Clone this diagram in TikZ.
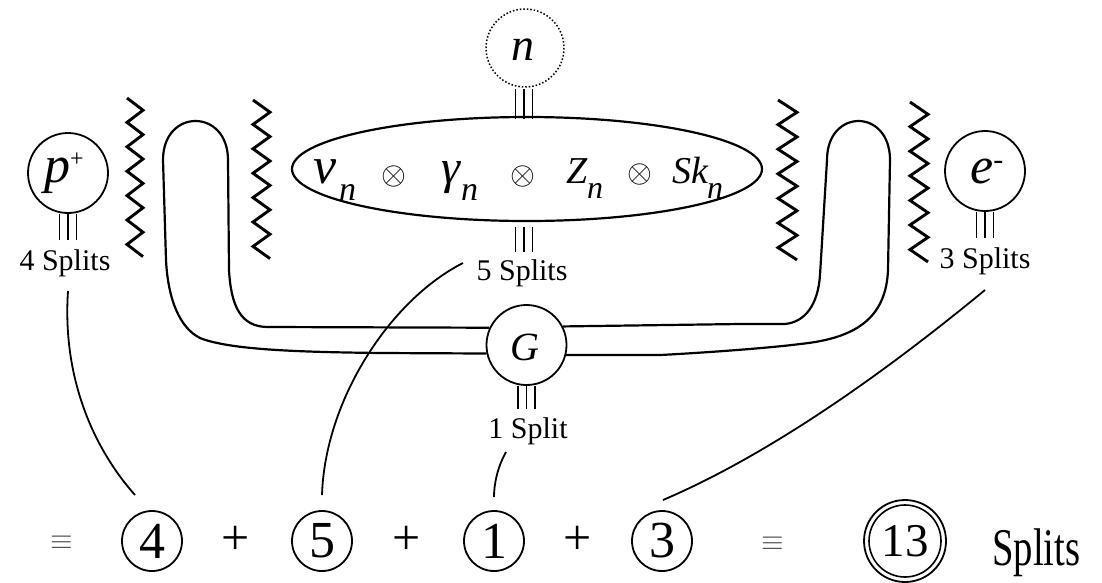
\documentclass[tikz,border=0pt]{standalone}
\usepackage{fontspec}
\setmainfont{Liberation Serif}
\begin{document}
\begin{tikzpicture}[x=1pt,y=-1pt,
  ln/.style={line width=2.2pt, line join=round},
  zz/.style={line width=2.9pt, line join=miter},
  bars/.style={line width=1.2pt},
  conn/.style={line width=1.8pt},
  bigc/.style={circle, draw, line width=1.8pt, minimum size=80pt, inner sep=0pt},
  numc/.style={circle, draw, line width=1.8pt, minimum size=60pt, inner sep=0pt, font=\fontsize{52}{52}\selectfont},
  lab/.style={font=\fontsize{30}{30}\selectfont, anchor=base, inner sep=0pt},
  txt/.style={anchor=base west, inner sep=0pt},
  sym/.style={inner sep=0pt, font=\fontsize{50}{50}\selectfont},
  otimes/.style={inner sep=0pt, font=\fontsize{10}{10}\selectfont},
  equivs/.style={inner sep=0pt, font=\fontsize{10}{10}\selectfont, text=black!70},
]
\useasboundingbox (0,0) rectangle (1102,582);

\newcommand\zigzag[4]{%
  \draw[zz] (#1,#3) \foreach \i in {1,...,13} { -- ({#1+(#2-#1)*mod(\i,2)},{#3+\i*#4}) };}

% circles with particles
\node[bigc] (p) at (68,173) {};
\node[txt] (ptxt) at (44,182) {\fontsize{52}{52}\selectfont\textit{p}\raisebox{16pt}{\fontsize{24}{24}\selectfont +}};
\node[bigc] (e) at (985,171) {};
\node[txt] (etxt) at (970,183) {\fontsize{52}{52}\selectfont\textit{e}\raisebox{14pt}{\fontsize{30}{30}\selectfont -}};
\node[bigc, draw=none] (n) at (525,48) {};
\draw[line width=1.5pt, dotted] (n.center) circle (39);
\node[inner sep=0pt, anchor=base] (ntxt) at (523,60) {\fontsize{46}{46}\selectfont\textit{n}};
\node[bigc] (G) at (526.5,345) {};
\node[inner sep=0pt, anchor=base] (Gtxt) at (525,360) {\fontsize{40}{40}\selectfont\textit{G}};

% big ellipse
\draw[ln] (527,169) ellipse (235 and 52);
\node[txt] (v) at (313,183) {\fontsize{52}{52}\selectfont\textit{v}};
\node[txt] (vn) at (339,200) {\fontsize{34}{34}\selectfont\textit{n}};
\node[otimes] (o1) at (394,176) {\scalebox{3.2}{$\otimes$}};
\node[txt] (g) at (441,183) {\fontsize{48}{48}\selectfont\textit{γ}};
\node[txt] (gn) at (461,200) {\fontsize{34}{34}\selectfont\textit{n}};
\node[otimes] (o2) at (523,176) {\scalebox{3.2}{$\otimes$}};
\node[txt] (Z) at (566,183) {\fontsize{38}{38}\selectfont\textit{Z}};
\node[txt] (Zn) at (587,198) {\fontsize{32}{32}\selectfont\textit{n}};
\node[otimes] (o3) at (640,174) {\scalebox{3.2}{$\otimes$}};
\node[txt] (Sk) at (672,183) {\fontsize{38}{38}\selectfont\textit{Sk}};
\node[txt] (Skn) at (707,198) {\fontsize{32}{32}\selectfont\textit{n}};

% triple bars
\foreach \d in {-8.5,0,8.5}{
  \draw[bars] ([xshift=\d pt]p.south) -- ++(0,26);
  \draw[bars] ([xshift=\d pt]e.south) -- ++(0,26);
  \draw[bars] ([xshift=\d-1 pt]n.south) -- ++(0,30);
  \draw[bars] (524+\d,227) -- (524+\d,252);
  \draw[bars] ([xshift=\d pt]G.south) -- ++(0,23);
}

% labels
\node[lab] (l4) at (65,270) {4 Splits};
\node[lab] (l5) at (522,280) {5 Splits};
\node[lab] (l3) at (985,268) {3 Splits};
\node[lab] (l1) at (528,438) {1 Split};

% zigzags
\zigzag{127}{143}{98}{12.2}
\zigzag{253}{270}{100}{12.2}
\zigzag{778}{797}{100}{12.3}
\zigzag{910}{928}{102}{12.3}

% tube
\draw[ln] (G.192) -- (380,353) .. controls (300,352) and (230,350) .. (200,338)
  .. controls (180,328) and (168,300) .. (166,260) -- (163,160)
  .. controls (163,108) and (228,108) .. (228,160) -- (229,270)
  .. controls (231,305) and (240,327) .. (268,327) -- (G.155);
\draw[ln] (G.27) -- (740,324) -- (785,324) .. controls (805,322) and (818,305) .. (820,275)
  -- (827,160) .. controls (827,108) and (890,108) .. (890,160) -- (888,270)
  .. controls (886,315) and (860,338) .. (800,344)
  .. controls (770,348) and (700,353) .. (660,355) -- (G.346);

% bottom row
\node[equivs] (eq1) at (62,543) {\scalebox{2.9}{$\equiv$}};
\node[numc] (c4) at (152,541) {4};
\node[sym] (pl1) at (236,540) {+};
\node[numc] (c5) at (322,541) {5};
\node[sym] (pl2) at (407,540) {+};
\node[numc] (c1) at (494,541) {1};
\node[sym] (pl3) at (578,540) {+};
\node[numc] (c3) at (662,541) {3};
\node[equivs] (eq2) at (773,544) {\scalebox{2.9}{$\equiv$}};
\node[circle, draw, line width=1.8pt, minimum size=82pt, inner sep=0pt, font=\fontsize{47}{47}\selectfont] (c13) at (905,541) {13};
\draw[line width=1.6pt] (c13.center) circle (36);
\node[txt] (spl) at (992,565) {\fontsize{53}{53}\selectfont\scalebox{0.73}[1]{Splits}};

% connectors
\coordinate (s4) at (68,291);
\coordinate (e4) at (135,495);
\coordinate (s5) at (463,263);
\coordinate (e5) at (322,495);
\coordinate (s1) at (506,452);
\coordinate (e1) at (494,497);
\coordinate (s3) at (985,290);
\coordinate (e3) at (663,500);
\draw[conn] (s4) .. controls (62,380) and (95,450) .. (e4);
\draw[conn] (s5) .. controls (390,300) and (325,400) .. (e5);
\draw[conn] (s1) .. controls (497,468) and (494,485) .. (e1);
\draw[conn] (s3) .. controls (900,360) and (780,450) .. (e3);
\end{tikzpicture}
\end{document}
